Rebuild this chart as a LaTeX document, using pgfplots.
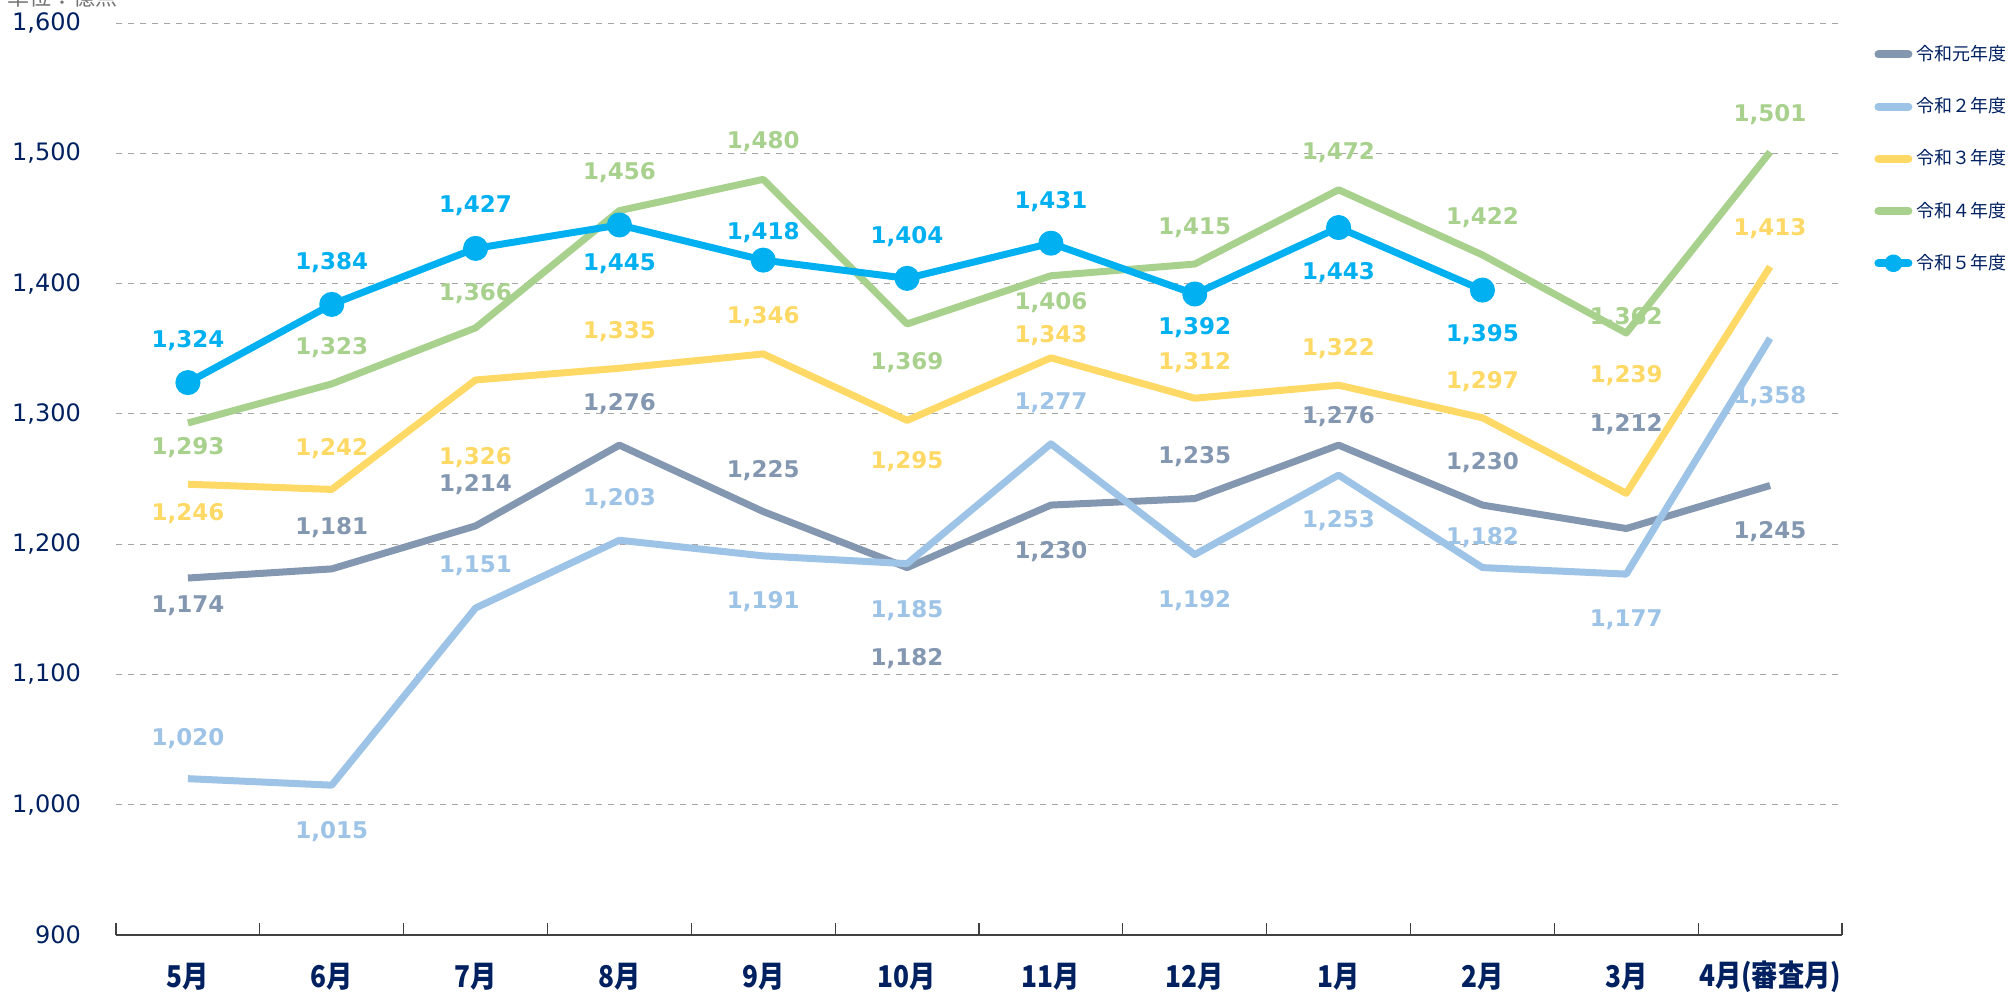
\documentclass[border=0pt]{standalone}
\usepackage{pgfplots}
\usepackage{pgfplotstable}
\pgfplotsset{compat=1.18}
\usepackage{fontspec}
\setmainfont{DejaVu Sans}
\newfontfamily\jp{Noto Sans CJK JP}
\definecolor{c1}{HTML}{8497B0}
\definecolor{c2}{HTML}{9DC3E6}
\definecolor{c3}{HTML}{FFD966}
\definecolor{c4}{HTML}{A9D18E}
\definecolor{c5}{HTML}{00B0F0}
\definecolor{navy}{HTML}{002060}

\pgfplotstableread{
x y ly
1 1174 1152.7
2 1181 1213
3 1214 1245.5
4 1276 1307.7
5 1225 1256.4
6 1182 1112.2
7 1230 1194.2
8 1235 1267.2
9 1276 1297.8
10 1230 1262.3
11 1212 1291.9
12 1245 1210
}\rA
\pgfplotstableread{
x y ly
1 1020 1051
2 1015 979
3 1151 1183.3
4 1203 1234.6
5 1191 1155.7
6 1185 1148.8
7 1277 1308.7
8 1192 1156.7
9 1253 1217.9
10 1182 1205
11 1177 1141.9
12 1358 1313.6
}\rB
\pgfplotstableread{
x y ly
1 1246 1223.8
2 1242 1273.1
3 1326 1266.2
4 1335 1363
5 1346 1374.8
6 1295 1263.3
7 1343 1360
8 1312 1339.3
9 1322 1350.1
10 1297 1324.5
11 1239 1329.4
12 1413 1442
}\rC
\pgfplotstableread{
x y ly
1 1293 1274.1
2 1323 1351.1
3 1366 1392.6
4 1456 1485.4
5 1480 1509.1
6 1369 1339.3
7 1406 1385.7
8 1415 1442.9
9 1472 1500.2
10 1422 1450.8
11 1362 1373.8
12 1501 1529.8
}\rD
\pgfplotstableread{
x y ly
1 1324 1356.1
2 1384 1416.3
3 1427 1459.7
4 1445 1415.3
5 1418 1439
6 1404 1436
7 1431 1462.7
8 1392 1366
9 1443 1408.4
10 1395 1361
}\rE

\pgfplotsset{
  lbl/.style={draw=none, forget plot, nodes near coords, point meta=explicit,
    every node near coord/.append style={text=#1, anchor=center,
      font=\bfseries\fontsize{11.5}{13}\selectfont,
      /pgf/number format/assume math mode=true}},
}

\begin{document}
\begin{tikzpicture}
\useasboundingbox (-58pt,-29pt) rectangle (950pt,467.5pt);
\begin{axis}[
  at={(0,0)}, anchor=south west,
  scale only axis, width=863pt, height=456pt,
  xmin=0.5, xmax=12.5, ymin=900, ymax=1600,
  axis lines=left, axis line style={-},
  y axis line style={draw=none},
  x axis line style={draw=black!75, line width=1.2pt},
  xtick={0.5,1.5,...,12.5},
  xticklabels={},
  extra x ticks={1,2,...,12},
  extra x tick labels={5月,6月,7月,8月,9月,10月,11月,12月,1月,2月,3月,4月(審査月)},
  extra x tick style={major tick length=0pt, grid=none},
  ytick={900,1000,...,1600},
  ytick style={draw=none},
  tick align=inside,
  xtick style={draw=black!75, line width=0.6pt},
  major tick length=6pt,
  ymajorgrids, grid style={dashed, black!35, line width=0.5pt},
  xticklabel style={font=\jp\bfseries\fontsize{12.5}{14}\selectfont, text=navy, anchor=center, yshift=-21pt, yscale=1.2, xscale=1.05},
  yticklabel style={font=\fontsize{12}{13}\selectfont, text=navy, anchor=east, xshift=-14pt,
    /pgf/number format/assume math mode=true},
  legend style={at={(rel axis cs:1,1)}, anchor=north west, xshift=16pt, yshift=-9pt,
    draw=none, fill=none, font=\jp\fontsize{9}{11}\selectfont, text=navy,
    row sep=13pt, inner sep=0pt},
  legend cell align=left,
  legend image code/.code={\draw[mark repeat=2,mark phase=2,#1, line width=4pt, line cap=round, mark size=2.5pt]
    plot coordinates {(0pt,0pt) (7.5pt,0pt) (15pt,0pt)};},
  every axis plot/.append style={line width=3.5pt, line join=round},
]
\addplot[c1] table[x=x,y=y]{\rA};
\addlegendentry{令和元年度}
\addplot[c2] table[x=x,y=y]{\rB};
\addlegendentry{令和２年度}
\addplot[c3] table[x=x,y=y]{\rC};
\addlegendentry{令和３年度}
\addplot[c4] table[x=x,y=y]{\rD};
\addlegendentry{令和４年度}
\addplot[c5, mark=*, mark size=4.5pt] table[x=x,y=y]{\rE};
\addlegendentry{令和５年度}

\addplot[lbl=c1] table[x=x,y=ly,meta=y]{\rA};
\addplot[lbl=c2] table[x=x,y=ly,meta=y]{\rB};
\addplot[lbl=c3] table[x=x,y=ly,meta=y]{\rC};
\addplot[lbl=c4] table[x=x,y=ly,meta=y]{\rD};
\addplot[lbl=c5] table[x=x,y=ly,meta=y]{\rE};
\end{axis}
\node[anchor=west, text=black!55, font=\jp\fontsize{11}{13}\selectfont] at (-58pt,469pt) {単位：億点};
\end{tikzpicture}
\end{document}
